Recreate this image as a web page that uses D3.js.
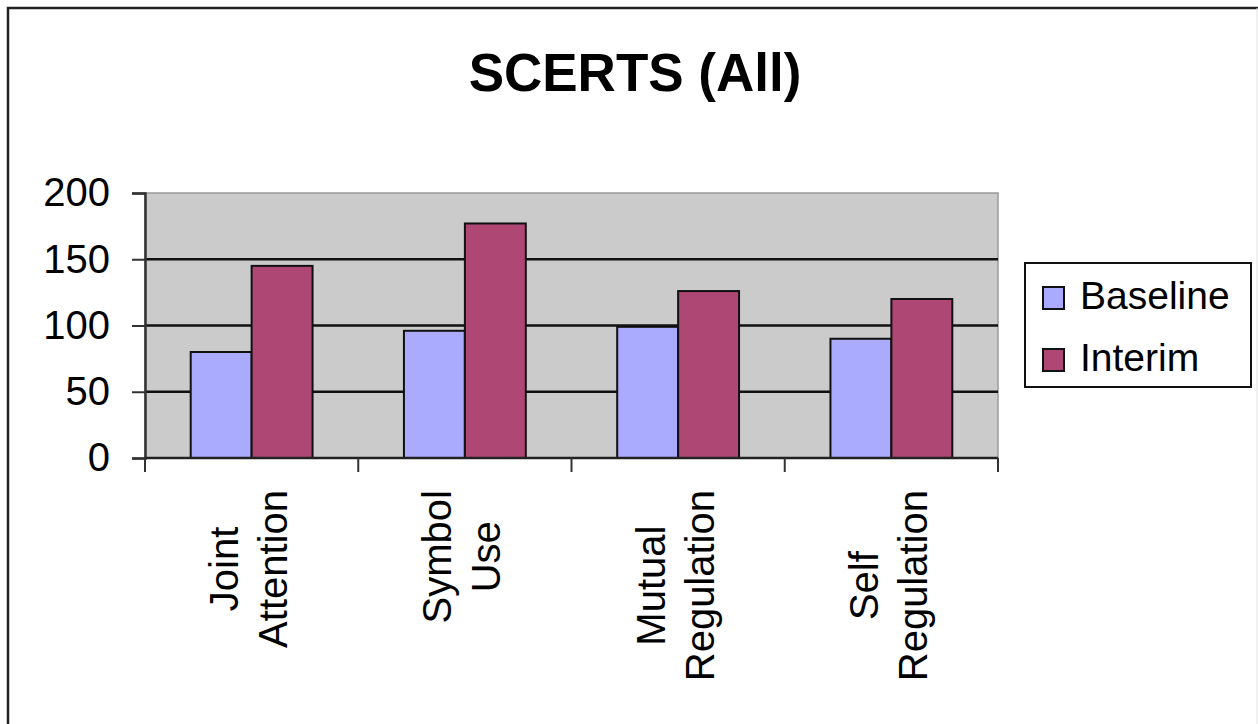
<!DOCTYPE html>
<html>
<head>
<meta charset="utf-8">
<script src="https://cdn.jsdelivr.net/npm/d3@7"></script>
<style>
  html, body { margin: 0; padding: 0; background: #fff; }
  svg { display: block; }
  text { font-family: "Liberation Sans", Arial, sans-serif; fill: #000; }
</style>
</head>
<body>
<svg id="chart" width="1258" height="724"></svg>
<script>
const title = "SCERTS (All)";
const categories = [["Joint", "Attention"], ["Symbol", "Use"], ["Mutual", "Regulation"], ["Self", "Regulation"]];
const seriesNames = ["Baseline", "Interim"];
const baselineValues = [80, 96, 99, 90];
const interimValues = [145, 177, 126, 120];
const yTicks = [0, 50, 100, 150, 200];
const seriesColors = ["#aaaafe", "#ae4774"];

const series = [baselineValues, interimValues];
const catKeys = categories.map(c => c.join(" "));

const svg = d3.select("#chart");
const plot = { left: 145, right: 998, top: 193, bottom: 458 };

// outer chart border (left and top visible; right edge faint)
svg.append("rect").attr("x", 8).attr("y", 8).attr("width", 1280).attr("height", 740)
  .attr("fill", "#fff").attr("stroke", "#222").attr("stroke-width", 2.5);
svg.append("line").attr("x1", 1257).attr("x2", 1257).attr("y1", 8).attr("y2", 724)
  .attr("stroke", "#e4e4e4").attr("stroke-width", 1);

// title
svg.append("text").attr("x", 635).attr("y", 91).attr("text-anchor", "middle")
  .attr("font-size", 53).attr("font-weight", "bold").text(title);

const x0 = d3.scaleBand().domain(catKeys).range([plot.left, plot.right]).paddingInner(0).paddingOuter(0);
const bw = x0.bandwidth();
const barW = bw / 3.5; // gap width 150%
const x1 = d3.scaleBand().domain(seriesNames).range([0.75 * barW, 2.75 * barW]).padding(0);
const y = d3.scaleLinear().domain([0, 200]).range([plot.bottom, plot.top]);

// plot background
svg.append("rect").attr("x", plot.left).attr("y", plot.top)
  .attr("width", plot.right - plot.left).attr("height", plot.bottom - plot.top)
  .attr("fill", "#cbcbcb").attr("stroke", "#9a9a9a").attr("stroke-width", 1.5);

// gridlines
svg.append("g").selectAll("line").data(yTicks.filter(t => t > 0 && t < 200)).join("line")
  .attr("x1", plot.left).attr("x2", plot.right)
  .attr("y1", d => y(d)).attr("y2", d => y(d))
  .attr("stroke", "#111").attr("stroke-width", 2.4);

// bars
const gCat = svg.append("g").selectAll("g").data(catKeys).join("g")
  .attr("transform", d => `translate(${x0(d)},0)`);
gCat.selectAll("rect").data((d, i) => seriesNames.map((s, j) => ({ s, v: series[j][i], c: seriesColors[j] })))
  .join("rect")
  .attr("x", d => x1(d.s)).attr("width", x1.bandwidth())
  .attr("y", d => y(d.v)).attr("height", d => y(0) - y(d.v))
  .attr("fill", d => d.c).attr("stroke", "#111").attr("stroke-width", 2);

// y axis
const yAxis = d3.axisLeft(y).tickValues(yTicks).tickSize(13).tickPadding(22).tickFormat(d3.format("d"));
const gy = svg.append("g").attr("transform", `translate(${plot.left},0)`).call(yAxis);
gy.select(".domain").attr("stroke", "#333").attr("stroke-width", 2.5);
gy.selectAll(".tick line").attr("stroke", "#333").attr("stroke-width", 2);
gy.selectAll(".tick text").attr("font-size", 40).attr("font-family", "Liberation Sans, Arial, sans-serif").attr("fill", "#111");

// x axis line and boundary ticks
const boundaries = catKeys.map(k => x0(k)).concat([plot.right]);
svg.append("line").attr("x1", plot.left).attr("x2", plot.right).attr("y1", y(0)).attr("y2", y(0))
  .attr("stroke", "#222").attr("stroke-width", 2.5);
svg.append("g").selectAll("line").data(boundaries).join("line")
  .attr("x1", d => d).attr("x2", d => d).attr("y1", y(0)).attr("y2", y(0) + 14)
  .attr("stroke", "#333").attr("stroke-width", 2);

// category labels (rotated, two lines)
const fs = 40, lineH = 49, topY = 490;
const labG = svg.append("g").selectAll("g").data(categories).join("g");
labG.each(function (lines, i) {
  const g = d3.select(this);
  const cx = x0(catKeys[i]) + bw / 2 - 3;
  const inner = g.append("g");
  const texts = inner.selectAll("text").data(lines).join("text")
    .attr("font-size", fs).attr("fill", "#111")
    .attr("text-anchor", "middle").attr("dominant-baseline", "central")
    .attr("y", (d, j) => (j - (lines.length - 1) / 2) * lineH)
    .text(d => d);
  let maxLen = 0;
  texts.each(function () { maxLen = Math.max(maxLen, this.getComputedTextLength()); });
  texts.attr("x", -maxLen / 2);
  inner.attr("transform", `translate(${cx},${topY}) rotate(-90)`);
});

// legend
const lg = svg.append("g");
lg.append("rect").attr("x", 1025).attr("y", 263).attr("width", 226).attr("height", 124)
  .attr("fill", "#fff").attr("stroke", "#111").attr("stroke-width", 2);
const items = lg.selectAll("g.item").data(seriesNames).join("g").attr("class", "item")
  .attr("transform", (d, i) => `translate(1043,${287 + i * 62})`);
items.append("rect").attr("width", 21).attr("height", 22)
  .attr("fill", (d, i) => seriesColors[i]).attr("stroke", "#111").attr("stroke-width", 2);
items.append("text").attr("x", 37).attr("y", 22).attr("font-size", 39).attr("fill", "#111").text(d => d);
</script>
</body>
</html>
